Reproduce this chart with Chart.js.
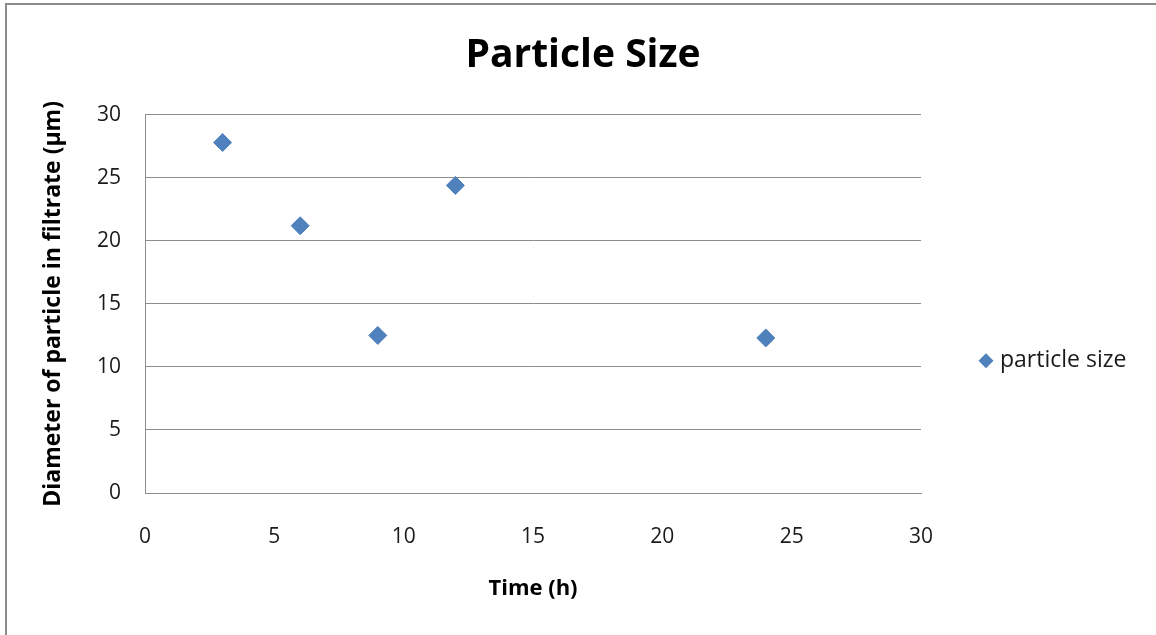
<!DOCTYPE html>
<html>
<head>
<meta charset="utf-8">
<script src="https://cdn.jsdelivr.net/npm/chart.js@4/dist/chart.umd.min.js"></script>
<style>
    html, body { margin: 0; padding: 0; background: #fff; }
    #wrap { position: relative; width: 1156px; height: 635px; overflow: hidden; }
    #frame { position: absolute; left: 5px; top: 3px; width: 1200px; height: 700px; border: 2px solid #8c8c8c; box-sizing: border-box; }
    #particleChart { position: absolute; left: 0; top: 0; }
</style>
</head>
<body>
<div id="wrap">
    <div id="frame"></div>
    <canvas id="particleChart" width="1156" height="635"></canvas>
</div>
<script>
// Data
const timeHours = [3, 6, 9, 12, 24];
const particleSize = [27.8, 21.2, 12.5, 24.4, 12.3];
const xTicks = [0, 5, 10, 15, 20, 25, 30];
const yTicks = [0, 5, 10, 15, 20, 25, 30];

const fontFamily = "'Open Sans', Lato, sans-serif";
const markerColor = "#4F81BD";

// Title is centred on the whole frame, not only the plot column
const centreTitle = {
    id: "centreTitle",
    afterLayout(chart) {
        chart.titleBlock.left = 10;
        chart.titleBlock.right = 1156;
    },
};

// Draws the legend entry to the right of the plot area
const sideLegend = {
    id: "sideLegend",
    afterDraw(chart) {
        const ctx = chart.ctx;
        const area = chart.chartArea;
        const ds = chart.data.datasets[0];
        const x = area.right + 65;
        const y = area.top + 246;
        ctx.save();
        ctx.fillStyle = ds.backgroundColor;
        ctx.beginPath();
        ctx.moveTo(x, y - 7.5);
        ctx.lineTo(x + 7.5, y);
        ctx.lineTo(x, y + 7.5);
        ctx.lineTo(x - 7.5, y);
        ctx.closePath();
        ctx.fill();
        ctx.fillStyle = "#1a1a1a";
        ctx.font = "23px " + fontFamily;
        ctx.textBaseline = "middle";
        ctx.fillText(ds.label, x + 14, y);
        ctx.restore();
    },
};

document.addEventListener("DOMContentLoaded", () => {
    const ctx = document.getElementById("particleChart");

    new Chart(ctx, {
        type: "scatter",
        data: {
            datasets: [
                {
                    label: "particle size",
                    data: timeHours.map((t, i) => ({ x: t, y: particleSize[i] })),
                    pointStyle: "rectRot",
                    pointRadius: 9,
                    pointHoverRadius: 9,
                    backgroundColor: markerColor,
                    borderColor: markerColor,
                    borderWidth: 1,
                },
            ],
        },
        options: {
            responsive: false,
            animation: false,
            layout: {
                padding: { left: 36, right: 235, top: 0, bottom: 30 },
            },
            scales: {
                x: {
                    type: "linear",
                    min: 0,
                    max: 30,
                    afterBuildTicks: (scale) => {
                        scale.ticks = xTicks.map((v) => ({ value: v }));
                    },
                    afterFit: (scale) => {
                        scale.height = 112;
                    },
                    ticks: {
                        color: "#1a1a1a",
                        padding: 31,
                        maxRotation: 0,
                        font: { family: fontFamily, size: 21 },
                    },
                    grid: { display: false, drawTicks: false },
                    border: { color: "#8c8c8c", width: 1 },
                    title: {
                        display: true,
                        text: "Time (h)",
                        color: "#000",
                        padding: { top: 4, bottom: 3 },
                        font: { family: fontFamily, size: 22, weight: "bold" },
                    },
                },
                y: {
                    type: "linear",
                    min: 0,
                    max: 30,
                    afterBuildTicks: (scale) => {
                        scale.ticks = yTicks.map((v) => ({ value: v }));
                    },
                    afterFit: (scale) => {
                        scale.width = 109;
                    },
                    ticks: {
                        color: "#1a1a1a",
                        padding: 24,
                        font: { family: fontFamily, size: 21 },
                    },
                    grid: { color: "#8c8c8c", lineWidth: 1, drawTicks: false },
                    border: { color: "#8c8c8c", width: 1 },
                    title: {
                        display: true,
                        text: "Diameter of particle in filtrate (\u03bcm)",
                        color: "#000",
                        padding: { top: 4, bottom: 4 },
                        font: { family: fontFamily, size: 23, weight: "bold" },
                    },
                },
            },
            plugins: {
                legend: { display: false },
                tooltip: { enabled: false },
                title: {
                    display: true,
                    text: "Particle Size",
                    color: "#000",
                    padding: { top: 32, bottom: 36 },
                    font: { family: fontFamily, size: 39, weight: "bold" },
                },
            },
        },
        plugins: [centreTitle, sideLegend],
    });
});
</script>
</body>
</html>
